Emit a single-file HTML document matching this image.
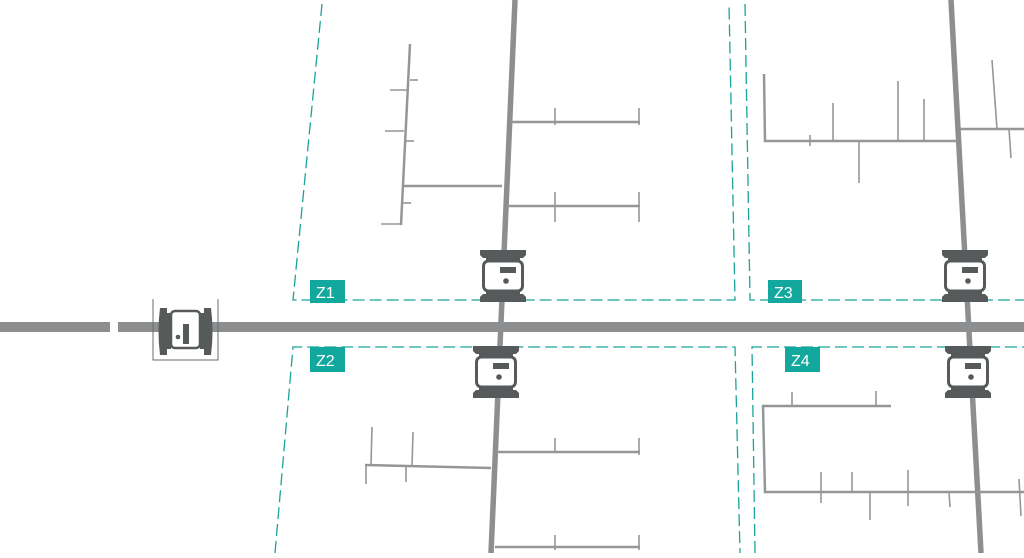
<!DOCTYPE html>
<html><head><meta charset="utf-8"><style>
html,body{margin:0;padding:0;background:#fff;}
svg{display:block;}
text{font-family:"Liberation Sans",sans-serif;font-size:16px;fill:#fff;}
</style></head><body>
<svg width="1024" height="558" viewBox="0 0 1024 558">
<defs>
<g id="m">
  <path d="M-23,0 H23 V5 L20,8 H-20 L-23,5 Z" fill="#575a5b"/>
  <rect x="-17" y="7" width="34" height="5" fill="#575a5b"/>
  <rect x="-19.5" y="11" width="39" height="30" rx="5" fill="#fff" stroke="#575a5b" stroke-width="3"/>
  <rect x="-3" y="17" width="16" height="6" fill="#575a5b"/>
  <circle cx="3" cy="31" r="2.8" fill="#575a5b"/>
  <rect x="-17" y="40" width="34" height="5" fill="#575a5b"/>
  <path d="M-20,44 H20 L23,47 V52 H-23 V47 Z" fill="#575a5b"/>
</g>
</defs>
<g stroke="#1aa39a" stroke-width="1.3" stroke-dasharray="12,5" fill="none">
  <polyline points="322,4 293,300 735,300 729,4"/>
  <polyline points="745,4 750,300 1024,300"/>
  <polyline points="275,553 293,347 735,347 740,553"/>
  <polyline points="755,553 752,347 1024,347"/>
</g>
<g stroke="#8c8e8f" stroke-width="10">
  <line x1="0" y1="327" x2="110" y2="327"/>
  <line x1="118" y1="327" x2="1024" y2="327"/>
</g>
<g stroke="#8c8e8f" stroke-width="5.5">
  <line x1="515" y1="0" x2="491" y2="553"/>
  <line x1="951" y1="0" x2="981" y2="553"/>
</g>
<g stroke="#949697" stroke-width="2.5" fill="none">
  <line x1="410" y1="44" x2="401" y2="225"/>
  <line x1="402" y1="186" x2="502" y2="186"/>
  <line x1="511" y1="122" x2="640" y2="122"/>
  <line x1="507" y1="206" x2="640" y2="206"/>
  <line x1="365" y1="465" x2="491" y2="468"/>
  <line x1="497" y1="452" x2="640" y2="452"/>
  <line x1="495" y1="547" x2="640" y2="547"/>
  <polyline points="764,74 765,141 957,141"/>
  <line x1="960" y1="129" x2="1024" y2="129"/>
  <polyline points="891,406 763,406 765,492 1024,492"/>
</g>
<g stroke="#949697" stroke-width="1.6">
  <line x1="410" y1="80" x2="418" y2="80"/>
  <line x1="390" y1="90" x2="407" y2="90"/>
  <line x1="385" y1="131" x2="404" y2="131"/>
  <line x1="405" y1="141" x2="414" y2="141"/>
  <line x1="403" y1="203" x2="411" y2="203"/>
  <line x1="381" y1="224" x2="401" y2="224"/>
  <line x1="555" y1="108" x2="555" y2="125"/>
  <line x1="639" y1="108" x2="639" y2="125"/>
  <line x1="555" y1="192" x2="555" y2="222"/>
  <line x1="639" y1="192" x2="639" y2="222"/>
  <line x1="372" y1="427" x2="371" y2="465"/>
  <line x1="366" y1="465" x2="366" y2="484"/>
  <line x1="413" y1="432" x2="412" y2="466"/>
  <line x1="406" y1="466" x2="406" y2="482"/>
  <line x1="555" y1="438" x2="555" y2="452"/>
  <line x1="639" y1="438" x2="639" y2="455"/>
  <line x1="555" y1="535" x2="555" y2="550"/>
  <line x1="639" y1="535" x2="639" y2="550"/>
  <line x1="810" y1="135" x2="810" y2="146"/>
  <line x1="833" y1="103" x2="833" y2="141"/>
  <line x1="859" y1="141" x2="859" y2="183"/>
  <line x1="898" y1="81" x2="898" y2="141"/>
  <line x1="924" y1="99" x2="924" y2="141"/>
  <line x1="992" y1="60" x2="997" y2="129"/>
  <line x1="1009" y1="129" x2="1011" y2="158"/>
  <line x1="792" y1="392" x2="792" y2="406"/>
  <line x1="876" y1="391" x2="876" y2="406"/>
  <line x1="821" y1="472" x2="821" y2="503"/>
  <line x1="852" y1="472" x2="852" y2="492"/>
  <line x1="870" y1="492" x2="870" y2="520"/>
  <line x1="908" y1="470" x2="908" y2="506"/>
  <line x1="949" y1="492" x2="950" y2="507"/>
  <line x1="1019" y1="479" x2="1021" y2="516"/>
</g>
<rect x="310" y="280" width="35" height="23" fill="#13a89e"/><text x="316" y="298">Z1</text>
<rect x="310" y="347" width="35" height="25" fill="#13a89e"/><text x="316" y="366">Z2</text>
<rect x="768" y="280" width="34" height="23" fill="#13a89e"/><text x="774" y="298">Z3</text>
<rect x="785" y="347" width="35" height="25" fill="#13a89e"/><text x="791" y="366">Z4</text>
<use href="#m" x="503" y="250"/>
<use href="#m" x="496" y="346"/>
<use href="#m" x="965" y="250"/>
<use href="#m" x="968" y="346"/>
<g>
  <polyline points="153,299 153,360 218,360 218,299" fill="none" stroke="#6a6c6d" stroke-width="1"/>
  <path d="M160,308 H167 V355 H160 Q157,331 160,308 Z" fill="#575a5b"/>
  <rect x="165" y="313" width="6" height="36" fill="#575a5b"/>
  <path d="M211,308 H204 V355 H211 Q214,331 211,308 Z" fill="#575a5b"/>
  <rect x="200" y="313" width="6" height="36" fill="#575a5b"/>
  <rect x="171" y="311" width="29" height="37" rx="4" fill="#fff" stroke="#575a5b" stroke-width="2.5"/>
  <rect x="183" y="324" width="6" height="20" fill="#575a5b"/>
  <circle cx="178" cy="337" r="2.3" fill="#575a5b"/>
</g>
</svg>
</body></html>
